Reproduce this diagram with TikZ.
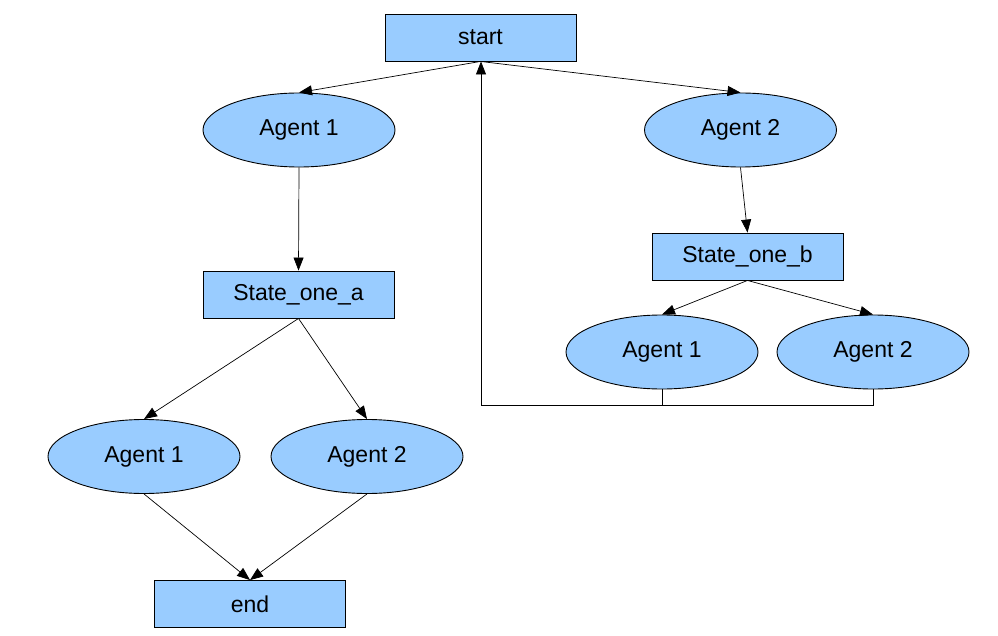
\documentclass[tikz,border=0pt]{standalone}
\usepackage{fontspec}
\setmainfont{Liberation Sans}
\usetikzlibrary{shapes.geometric,arrows.meta}
\definecolor{nodefill}{HTML}{99CCFF}
\begin{document}
\begin{tikzpicture}[x=1pt,y=-1pt,
  box/.style={draw=black,line width=0.9pt,fill=nodefill,rectangle,minimum width=191pt,minimum height=47pt,inner sep=0pt,font=\fontsize{23}{27}\selectfont},
  oval/.style={draw=black,line width=0.9pt,fill=nodefill,ellipse,minimum width=192pt,minimum height=74pt,inner sep=0pt,font=\fontsize{23}{27}\selectfont},
  arr/.style={-{Triangle[length=13pt,width=10pt]},line width=0.7pt}]
\useasboundingbox (0,0) rectangle (998,636);
\node[box] (start) at (480.5,37.5) {start};
\node[oval] (a1) at (299,130) {Agent 1};
\node[oval] (a2) at (740.5,130) {Agent 2};
\node[box] (sa) at (298.5,294.5) {State\_one\_a};
\node[box] (sb) at (747.5,256.5) {State\_one\_b};
\node[oval] (r1) at (662,352) {Agent 1};
\node[oval] (r2) at (873,352) {Agent 2};
\node[oval] (l1) at (144,456.5) {Agent 1};
\node[oval] (l2) at (367,456.5) {Agent 2};
\node[box] (end) at (250,604) {end};
\coordinate (fb) at (481,405);
\draw[arr] (start.south) -- (a1.north);
\draw[arr] (start.south) -- (a2.north);
\draw[arr] (a1.south) -- (sa.north);
\draw[arr] (a2.south) -- (sb.north);
\draw[arr] (sb.south) -- (r1.north);
\draw[arr] (sb.south) -- (r2.north);
\draw[arr] (sa.south) -- (l1.north);
\draw[arr] (sa.south) -- (l2.north);
\draw[arr] (l1.south) -- (end.north);
\draw[arr] (l2.south) -- (end.north);
\draw[line width=0.7pt] (r1.south) -- (r1.south |- fb);
\draw[arr] (r2.south) |- (fb) -- (fb |- start.south);
\end{tikzpicture}
\end{document}
